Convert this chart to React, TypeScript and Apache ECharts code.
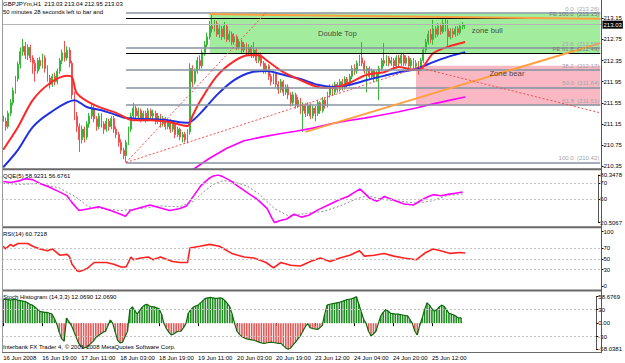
import React, { useEffect, useRef } from 'react';
import * as echarts from 'echarts';

// ---------- texts ----------
const titleLine1 = 'GBPJPYm,H1  213.03 213.04 212.95 213.03';
const titleLine2 = '50 minutes 28 seconds left to bar and';
const qqeTitle = 'QQE(5) 58.9231 56.6761';
const rsiTitle = 'RSI(14) 60.7218';
const histTitle = 'Stoch Histogram (14,3,3) 12.0690 12.0690';
const footerText = 'Interbank FX Trader 4, \u00a9 2001-2008 MetaQuotes Software Corp.';

// ---------- time axis ----------
const SLOT_COUNT = 244; // bars + empty shift area on the right
const LABEL_STEP = 16;
const timeLabels = [
  '16 Jun 2008', '16 Jun 19:00', '17 Jun 11:00', '18 Jun 03:00', '18 Jun 19:00', '19 Jun 11:00',
  '20 Jun 03:00', '20 Jun 19:00', '23 Jun 12:00', '24 Jun 04:00', '24 Jun 20:00', '25 Jun 12:00',
];

// ---------- price candles [open, close, low, high] ----------
const ohlc: number[][] = [
  [211.30, 211.20, 211.10, 211.38], [211.20, 211.10, 211.02, 211.27], [211.10, 211.35, 211.06, 211.40], [211.35, 211.55, 211.30, 211.62],
  [211.55, 211.78, 211.50, 211.84], [211.78, 212.00, 211.72, 212.06], [212.00, 212.28, 211.95, 212.33], [212.28, 212.52, 212.20, 212.60],
  [212.52, 212.62, 212.44, 212.76], [212.62, 212.45, 212.38, 212.70], [212.45, 212.60, 212.36, 212.66], [212.60, 212.40, 212.32, 212.65],
  [212.40, 212.30, 212.10, 212.45], [212.30, 212.15, 211.95, 212.36], [212.15, 212.35, 212.10, 212.40], [212.35, 212.25, 212.18, 212.42],
  [212.25, 212.40, 212.20, 212.48], [212.40, 212.20, 212.12, 212.45], [212.20, 212.02, 211.95, 212.26], [212.02, 211.90, 211.82, 212.08],
  [211.90, 212.05, 211.85, 212.10], [212.05, 211.95, 211.88, 212.12], [211.95, 212.15, 211.90, 212.20], [212.15, 212.35, 212.10, 212.40],
  [212.35, 212.50, 212.28, 212.56], [212.50, 212.40, 212.33, 212.72], [212.40, 212.55, 212.35, 212.62], [212.55, 212.30, 212.22, 212.60],
  [212.30, 211.70, 211.62, 212.35], [211.70, 211.30, 211.22, 211.76], [211.30, 211.10, 211.00, 211.38], [211.10, 210.85, 210.62, 211.16],
  [210.85, 211.05, 210.78, 211.12], [211.05, 210.90, 210.80, 211.10], [210.90, 211.15, 210.85, 211.20], [211.15, 211.30, 211.08, 211.36],
  [211.30, 211.45, 211.24, 211.55], [211.45, 211.25, 211.18, 211.50], [211.25, 211.10, 211.02, 211.30], [211.10, 211.30, 211.05, 211.36],
  [211.30, 211.15, 211.08, 211.35], [211.15, 211.05, 210.96, 211.20], [211.05, 211.20, 211.00, 211.26], [211.20, 211.10, 211.02, 211.25],
  [211.10, 211.25, 211.05, 211.30], [211.25, 211.05, 210.98, 211.30], [211.05, 210.95, 210.88, 211.10], [210.95, 210.80, 210.72, 211.00],
  [210.80, 210.65, 210.58, 210.86], [210.65, 210.55, 210.48, 210.70], [210.55, 210.80, 210.42, 210.85], [210.80, 211.05, 210.75, 211.10],
  [211.05, 211.30, 211.00, 211.36], [211.30, 211.45, 211.25, 211.55], [211.45, 211.30, 211.22, 211.50], [211.30, 211.40, 211.25, 211.46],
  [211.40, 211.25, 211.18, 211.44], [211.25, 211.35, 211.20, 211.40], [211.35, 211.25, 211.18, 211.40], [211.25, 211.40, 211.20, 211.45],
  [211.40, 211.30, 211.22, 211.44], [211.30, 211.35, 211.24, 211.42], [211.35, 211.20, 211.14, 211.40], [211.20, 211.30, 211.15, 211.36],
  [211.30, 211.15, 211.08, 211.34], [211.15, 211.25, 211.10, 211.30], [211.25, 211.10, 211.04, 211.28], [211.10, 211.20, 211.05, 211.25],
  [211.20, 211.05, 210.98, 211.24], [211.05, 211.15, 211.00, 211.20], [211.15, 210.95, 210.88, 211.18], [210.95, 211.05, 210.90, 211.10],
  [211.05, 210.90, 210.84, 211.08], [210.90, 210.95, 210.80, 211.00], [210.95, 210.85, 210.80, 211.00], [210.85, 211.00, 210.78, 211.05],
  [211.00, 212.20, 210.95, 212.30], [212.20, 211.95, 211.85, 212.26], [211.95, 212.15, 211.90, 212.20], [212.15, 212.35, 212.10, 212.42],
  [212.35, 212.25, 212.18, 212.45], [212.25, 212.50, 212.20, 212.56], [212.50, 212.65, 212.44, 212.72], [212.65, 212.80, 212.60, 212.88],
  [212.80, 213.00, 212.75, 213.10], [213.00, 212.95, 212.88, 213.22], [212.95, 213.05, 212.90, 213.12], [213.05, 212.85, 212.80, 213.10],
  [212.85, 212.95, 212.78, 213.02], [212.95, 212.80, 212.74, 213.00], [212.80, 213.00, 212.75, 213.08], [213.00, 212.75, 212.70, 213.04],
  [212.75, 212.85, 212.70, 212.92], [212.85, 212.70, 212.64, 212.90], [212.70, 212.80, 212.65, 212.87], [212.80, 212.60, 212.55, 212.84],
  [212.60, 212.70, 212.56, 212.76], [212.70, 212.55, 212.48, 212.74], [212.55, 212.65, 212.50, 212.70], [212.65, 212.50, 212.45, 212.68],
  [212.50, 212.60, 212.46, 212.66], [212.60, 212.45, 212.40, 212.64], [212.45, 212.55, 212.40, 212.70], [212.55, 212.35, 212.30, 212.58],
  [212.35, 212.45, 212.30, 212.50], [212.45, 212.30, 212.24, 212.50], [212.30, 212.15, 212.10, 212.34], [212.15, 212.25, 212.10, 212.30],
  [212.25, 212.05, 211.98, 212.28], [212.05, 211.95, 211.88, 212.10], [211.95, 212.10, 211.90, 212.15], [212.10, 211.90, 211.84, 212.14],
  [211.90, 211.80, 211.72, 211.96], [211.80, 211.95, 211.74, 212.00], [211.95, 211.75, 211.68, 211.98], [211.75, 211.85, 211.70, 211.90],
  [211.85, 211.70, 211.62, 211.90], [211.70, 211.55, 211.48, 211.75], [211.55, 211.70, 211.50, 211.76], [211.70, 211.50, 211.44, 211.74],
  [211.50, 211.60, 211.45, 211.66], [211.60, 211.40, 211.34, 211.64], [211.40, 211.50, 211.00, 211.56], [211.50, 211.35, 211.28, 211.54],
  [211.35, 211.50, 211.30, 211.56], [211.50, 211.30, 211.24, 211.54], [211.30, 211.45, 211.25, 211.50], [211.45, 211.35, 211.20, 211.50],
  [211.35, 211.55, 211.30, 211.60], [211.55, 211.40, 211.34, 211.58], [211.40, 211.60, 211.36, 211.66], [211.60, 211.50, 211.44, 211.65],
  [211.50, 211.70, 211.46, 211.76], [211.70, 211.85, 211.65, 211.90], [211.85, 211.75, 211.68, 211.90], [211.75, 211.90, 211.70, 211.95],
  [211.90, 211.80, 211.74, 211.94], [211.80, 211.95, 211.76, 212.00], [211.95, 211.85, 211.78, 212.00], [211.85, 212.00, 211.80, 212.05],
  [212.00, 211.90, 211.84, 212.04], [211.90, 212.05, 211.86, 212.10], [212.05, 212.20, 212.00, 212.26], [212.20, 212.15, 212.08, 212.28],
  [212.15, 212.30, 212.10, 212.35], [212.30, 212.40, 212.25, 212.46], [212.40, 212.30, 212.24, 212.70], [212.30, 212.15, 212.10, 212.35],
  [212.15, 212.20, 211.75, 212.25], [212.20, 212.05, 212.00, 212.24], [212.05, 212.15, 212.00, 212.20], [212.15, 212.00, 211.94, 212.18],
  [212.00, 212.10, 211.95, 212.15], [212.10, 212.20, 211.60, 212.25], [212.20, 212.35, 212.15, 212.40], [212.35, 212.30, 212.24, 212.68],
  [212.30, 212.40, 212.25, 212.45], [212.40, 212.30, 212.24, 212.44], [212.30, 212.35, 212.25, 212.42], [212.35, 212.25, 212.18, 212.40],
  [212.25, 212.40, 212.20, 212.45], [212.40, 212.30, 212.24, 212.46], [212.30, 212.45, 212.25, 212.50], [212.45, 212.30, 212.25, 212.48],
  [212.30, 212.40, 212.25, 212.45], [212.40, 212.25, 212.20, 212.44], [212.25, 212.35, 212.20, 212.40], [212.35, 212.25, 212.18, 212.40],
  [212.25, 212.30, 212.20, 212.36], [212.30, 212.20, 212.08, 212.34], [212.20, 212.35, 212.15, 212.40], [212.35, 212.55, 212.30, 212.60],
  [212.55, 212.70, 212.50, 212.76], [212.70, 212.85, 212.65, 212.92], [212.85, 212.75, 212.68, 212.95], [212.75, 212.95, 212.65, 213.12],
  [212.95, 212.85, 212.78, 213.00], [212.85, 213.00, 212.80, 213.06], [213.00, 212.90, 212.84, 213.05], [212.90, 213.05, 212.86, 213.13],
  [213.05, 212.95, 212.90, 213.16], [212.95, 212.80, 212.60, 213.12], [212.80, 212.90, 212.75, 212.96], [212.90, 212.85, 212.78, 212.96],
  [212.85, 212.95, 212.80, 213.00], [212.95, 212.88, 212.82, 213.00], [212.88, 213.00, 212.84, 213.05], [213.00, 213.03, 212.94, 213.08],
  [213.03, 213.03, 212.95, 213.04],
];

// ---------- moving averages [bar, price] ----------
const maFast: number[][] = [
  [0, 210.66], [6, 211.09], [12, 211.60], [19, 211.92], [26, 212.06], [28, 212.04], [30, 211.73], [37, 211.51], [46, 211.36],
  [53, 211.22], [60, 211.22], [67, 211.19], [75, 211.11], [77, 211.30], [80, 211.57], [87, 212.06], [94, 212.34], [100, 212.45],
  [104, 212.45], [107, 212.36], [114, 212.13], [121, 211.98], [128, 211.85], [134, 211.83], [141, 211.93], [148, 212.08],
  [155, 212.13], [161, 212.23], [165, 212.19], [169, 212.17], [175, 212.49], [181, 212.61], [188, 212.70],
];
const maSlow: number[][] = [
  [0, 210.33], [6, 210.66], [12, 211.09], [19, 211.36], [29, 211.60], [34, 211.47], [40, 211.41], [46, 211.32], [50, 211.26],
  [60, 211.24], [67, 211.22], [75, 211.17], [80, 211.34], [87, 211.70], [94, 211.98], [101, 212.13], [107, 212.15], [114, 212.08],
  [121, 212.00], [128, 211.89], [134, 211.85], [141, 211.89], [148, 211.98], [155, 212.06], [161, 212.13], [168, 212.19],
  [175, 212.32], [181, 212.42], [188, 212.51],
];
const maLong: number[][] = [
  [72, 210.13], [78, 210.31], [84, 210.50], [91, 210.69], [98, 210.83], [105, 210.90], [112, 210.96], [119, 211.01], [126, 211.07],
  [133, 211.15], [140, 211.21], [147, 211.26], [154, 211.32], [161, 211.38], [168, 211.45], [175, 211.53], [182, 211.60], [188, 211.66],
];

// ---------- indicators ----------
const qqeFast: number[][] = [
  [0, 72.1], [3, 71.0], [7, 73.3], [9, 75.6], [12, 74.5], [15, 69.8], [19, 65.1], [23, 59.2], [26, 54.5], [28, 46.3], [31, 35.8],
  [35, 38.1], [39, 40.4], [44, 35.8], [48, 31.1], [50, 28.7], [52, 35.8], [56, 39.3], [60, 42.8], [64, 39.3], [68, 35.8], [72, 38.1],
  [75, 41.6], [78, 54.5], [81, 67.4], [84, 75.6], [86, 79.2], [88, 80.35], [90, 78.0], [93, 73.3], [96, 66.3], [100, 58.0],
  [104, 49.8], [108, 38.1], [110, 26.0], [111, 20.51], [113, 23.0], [116, 25.2], [119, 31.1], [122, 27.5], [125, 29.9], [129, 36.9],
  [133, 42.8], [137, 48.7], [141, 53.4], [144, 59.2], [146, 62.7], [148, 56.9], [150, 51.0], [153, 47.5], [156, 53.4], [158, 51.0],
  [161, 47.5], [164, 44.0], [168, 42.8], [171, 48.7], [174, 53.4], [176, 55.7], [179, 54.4], [182, 56.0], [185, 57.5], [188, 58.92],
];
const qqeSlow: number[][] = [
  [0, 69.8], [7, 68.6], [15, 69.8], [23, 63.9], [30, 52.2], [35, 40.4], [41, 38.1], [48, 35.8], [56, 38.1], [64, 41.6], [72, 40.4],
  [78, 47.5], [82, 59.2], [86, 68.6], [90, 73.3], [94, 72.1], [100, 66.3], [105, 55.7], [111, 38.1], [117, 28.7], [124, 32.2],
  [131, 34.6], [138, 41.6], [144, 49.8], [149, 54.5], [155, 49.8], [162, 47.5], [169, 45.1], [175, 47.5], [182, 55.0], [188, 56.68],
];
const rsi: number[][] = [
  [0, 73.3], [1, 68.3], [3, 76.7], [4, 73.3], [6, 78.3], [10, 78.3], [12, 73.3], [15, 68.3], [18, 65.0], [20, 68.3], [23, 56.7],
  [26, 58.3], [27, 53.3], [28, 40.0], [30, 28.3], [31, 26.7], [34, 31.7], [37, 43.3], [39, 43.3], [42, 43.3], [45, 40.0], [48, 35.0],
  [50, 35.0], [52, 53.3], [53, 48.3], [56, 51.7], [59, 53.3], [61, 48.3], [64, 53.3], [67, 48.3], [69, 45.0], [72, 43.3], [75, 43.3],
  [76, 70.0], [80, 73.3], [84, 76.7], [88, 73.3], [93, 60.0], [98, 53.3], [102, 51.7], [107, 43.3], [110, 33.3], [113, 43.3],
  [117, 38.3], [121, 36.7], [125, 45.0], [129, 51.7], [133, 45.0], [137, 51.7], [141, 56.7], [145, 65.0], [147, 55.0], [151, 56.7],
  [155, 60.0], [159, 55.0], [163, 51.7], [168, 48.3], [172, 61.7], [175, 68.3], [178, 65.0], [182, 60.0], [186, 61.7], [188, 60.72],
];
const stochHist: number[] = [
  52, 53, 52, 51, 52, 53, 51, 50, 49, 48,
  45, 42, 40, 36, 31, 26, 25, 24, 24, 22,
  20, 10, -2, -20, -35, -40, 11, 3, -5, -18,
  -32, -45, -52, -55, -54, -50, -45, -40, -32, -28,
  -24, -20, -18, -5, 7, -1, -20, -38, -44, -42,
  -30, -18, 30, 36, 28, 20, 28, 35, 40, 42,
  38, 37, 36, 34, 32, 20, -1, -12, -20, -26,
  -24, -20, -18, -18, -10, -1, 22, 30, 35, 38,
  40, 45, 50, 55, 56, 57, 56, 55, 55, 56,
  55, 50, 44, 36, 20, -1, -18, -25, -30, -33,
  -35, -36, -37, -38, -40, -42, -44, -45, -44, -43,
  -42, -43, -44, -45, -45, -50, -55, -58.0381, -55, -48,
  -42, -35, -28, -18, -8, -1, -10, -12, -13, -14,
  -10, -5, 20, 40, 42, 43, 44, 45, 46, 48,
  50, 52, 53, 54, 56, 58.6769, 42, 25, 8, -1,
  -18, -28, -24, -18, -1, 16, 24, 30, 27, 22,
  21, 20, 20, 19, 18, 17, 16, 8, -1, -18,
  -26, -5, 11, 30, 45, 40, 32, 26, 30, 36,
  40, 37, 30, 22, 20, 18, 15, 11, 12.069,
];

// ---------- axis ticks ----------
const priceTicks = [210.35, 210.75, 211.15, 211.55, 211.95, 212.35, 212.75, 213.15];
const qqeTicks = [20.5067, 50, 70, 80.3478];
const rsiTicks = [0, 30, 50, 70, 100];
const histTicks = [-58.0381, -30, 0, 30, 58.6769];
const qqeLevels = [70, 50];
const rsiLevels = [70, 50, 30];
const histLevels = [30, -30];

// ---------- drawings on price chart ----------
const bidPrice = 213.03;
const fibStartBar = 50;
const lastSlot = 243;
const fibLevels = [
  { name: '0.0', price: 213.26 },
  { name: '23.6', price: 212.59 },
  { name: '38.2', price: 212.17 },
  { name: '50.0', price: 211.84 },
  { name: '61.8', price: 211.51 },
  { name: '100.0', price: 210.42 },
];
const feLevels = [
  { name: 'FE 100.0', price: 213.15 },
  { name: 'FE 61.8', price: 212.49 },
];
const zones = [
  { from: [84, 213.24], to: [243, 212.49], color: '#a2ec9e' },
  { from: [168, 212.25], to: [243, 211.5], color: '#f8b8c4' },
];
const orangeLines = [
  [[84, 213.23], [243, 213.14]],
  [[123, 211.0], [243, 212.68]],
];
const redDotLines = [
  [[50, 210.42], [107, 213.26]],
  [[50, 210.42], [169, 212.22]],
  [[169, 212.22], [243, 211.36]],
];
const notes = [
  { text: 'Double Top', bar: 136, price: 212.86 },
  { text: 'zone bull', bar: 197, price: 212.92 },
  { text: 'Zone bear', bar: 205, price: 212.1 },
];

const FONT = '"Liberation Sans", Arial, sans-serif';
const SMALL = 6;

function buildOption() {
  const categories = Array.from({ length: SLOT_COUNT }, (_, i) => String(i));
  const gridBoxes = [
    { top: 1, height: 167 },
    { top: 175, height: 47.7 },
    { top: 231.7, height: 54.3 },
    { top: 296.7, height: 52.6 },
  ];
  const grid = gridBoxes.map((g) => ({ left: 2, width: 599.5, top: g.top, height: g.height, containLabel: false }));

  const xAxis = gridBoxes.map((_, i) => ({
    type: 'category',
    gridIndex: i,
    data: categories,
    boundaryGap: true,
    axisLine: { show: false },
    axisTick: {
      show: false, interval: LABEL_STEP - 1, alignWithLabel: true, length: 3,
      lineStyle: { color: '#000', width: 1 },
    },
    axisLabel: {
      show: i === 3, interval: LABEL_STEP - 1, fontSize: SMALL, fontFamily: FONT, color: '#000',
      align: 'left', margin: 5.5,
      formatter: (v: string) => {
        const k = Number(v);
        return k % LABEL_STEP === 0 ? (timeLabels[k / LABEL_STEP] ?? '') : '';
      },
    },
    splitLine: { show: false },
  }));

  const yAx = (gridIndex: number, min: number, max: number, ticks: number[], fmt: (v: number) => string) => ({
    type: 'value', gridIndex, position: 'right', min, max,
    axisLine: { show: true, lineStyle: { color: '#555', width: 1 } },
    axisTick: { show: true, customValues: ticks, length: 2, lineStyle: { color: '#000' } },
    axisLabel: { customValues: ticks, fontSize: SMALL, fontFamily: FONT, color: '#000', margin: 2, formatter: fmt },
    splitLine: { show: false },
  });
  const yAxis = [
    yAx(0, 210.315, 213.478, priceTicks, (v) => v.toFixed(2)),
    yAx(1, 20.5067, 80.3478, qqeTicks, (v) => String(v)),
    yAx(2, 0, 100, rsiTicks, (v) => String(v)),
    yAx(3, -58.0381, 58.6769, histTicks, (v) => (v === 0 ? '0.00' : String(v))),
  ];

  const levelLine = (values: number[]) => ({
    silent: true, symbol: ['none', 'none'],
    label: { show: false },
    lineStyle: { color: '#c4c4c4', type: [2, 2], width: 1 },
    data: values.map((v) => ({ yAxis: v })),
  });

  const fibMarks: any[] = fibLevels.map((f) => [
    {
      coord: [fibStartBar, f.price],
      lineStyle: { color: '#8693a0', width: 1.5, type: 'solid' },
      label: {
        show: true, position: 'insideEndTop', distance: 1, formatter: `${f.name}  (${f.price.toFixed(2)})`,
        fontSize: SMALL, fontFamily: FONT, color: '#a6a6a6',
      },
    },
    { coord: [lastSlot, f.price] },
  ]);
  const feMarks: any[] = feLevels.map((f) => [
    {
      coord: [fibStartBar, f.price],
      lineStyle: { color: '#000', width: 1, type: 'solid' },
      label: {
        show: true, position: 'insideEndTop', distance: 1, formatter: `${f.name}  (${f.price.toFixed(2)})`,
        fontSize: SMALL, fontFamily: FONT, color: '#7a7a7a',
      },
    },
    { coord: [lastSlot, f.price] },
  ]);
  const bidMark = {
    yAxis: bidPrice,
    lineStyle: { color: '#b4b4b4', width: 1, type: 'solid' },
    label: {
      show: true, position: 'end', distance: 1, formatter: bidPrice.toFixed(2),
      fontSize: SMALL, fontFamily: FONT, color: '#fff', backgroundColor: '#000', padding: [1, 1],
    },
  };

  const drawMarks: any[] = [
    ...orangeLines.map((l) => [
      { coord: l[0], lineStyle: { color: '#ffa040', width: 2, type: 'solid' } },
      { coord: l[1] },
    ]),
    ...redDotLines.map((l) => [
      { coord: l[0], lineStyle: { color: '#ff4a4a', width: 1, type: [2, 2] } },
      { coord: l[1] },
    ]),
  ];

  const series: any[] = [
    {
      name: 'zones', type: 'line', xAxisIndex: 0, yAxisIndex: 0, data: [], z: 1, silent: true,
      markArea: {
        silent: true,
        data: zones.map((zn) => [{ coord: zn.from, itemStyle: { color: zn.color, opacity: 1 } }, { coord: zn.to }]),
      },
    },
    {
      name: 'levels', type: 'line', xAxisIndex: 0, yAxisIndex: 0, data: [], z: 2, silent: true,
      markLine: { silent: true, symbol: ['none', 'none'], data: [bidMark, ...fibMarks, ...feMarks] },
    },
    {
      name: 'GBPJPY', type: 'candlestick', xAxisIndex: 0, yAxisIndex: 0, data: ohlc, z: 3, barWidth: 1.4,
      itemStyle: { color: '#1fae1f', color0: '#ee2c2c', borderColor: '#35b835', borderColor0: '#f05050', borderWidth: 1 },
    },
    {
      name: 'MA long', type: 'line', xAxisIndex: 0, yAxisIndex: 0, data: maLong, symbol: 'none', z: 4,
      lineStyle: { color: '#ff00ff', width: 1.6 },
    },
    {
      name: 'MA slow', type: 'line', xAxisIndex: 0, yAxisIndex: 0, data: maSlow, symbol: 'none', z: 4, smooth: 0.3,
      lineStyle: { color: '#1f30e0', width: 2 },
    },
    {
      name: 'MA fast', type: 'line', xAxisIndex: 0, yAxisIndex: 0, data: maFast, symbol: 'none', z: 4, smooth: 0.3,
      lineStyle: { color: '#ff2828', width: 2 },
    },
    {
      name: 'drawings', type: 'line', xAxisIndex: 0, yAxisIndex: 0, data: [], z: 5, silent: true,
      markLine: { silent: true, symbol: ['none', 'none'], label: { show: false }, data: drawMarks },
    },
    {
      name: 'notes', type: 'scatter', xAxisIndex: 0, yAxisIndex: 0, z: 6, silent: true,
      symbolSize: 1, itemStyle: { color: 'rgba(0,0,0,0)' },
      data: notes.map((n) => ({
        value: [n.bar, n.price],
        label: {
          show: true, position: 'inside', formatter: n.text, fontSize: 7.7, fontFamily: FONT, color: '#222',
        },
      })),
    },
    {
      name: 'QQE slow', type: 'line', xAxisIndex: 1, yAxisIndex: 1, data: qqeSlow, symbol: 'none', z: 3,
      lineStyle: { color: '#8e8e8e', width: 1, type: [2, 2] },
      markLine: levelLine(qqeLevels),
    },
    {
      name: 'QQE fast', type: 'line', xAxisIndex: 1, yAxisIndex: 1, data: qqeFast, symbol: 'none', z: 4,
      lineStyle: { color: '#ff00ff', width: 1.6 },
    },
    {
      name: 'RSI', type: 'line', xAxisIndex: 2, yAxisIndex: 2, data: rsi, symbol: 'none', z: 4,
      lineStyle: { color: '#ff2020', width: 1.6 },
      markLine: levelLine(rsiLevels),
    },
    {
      name: 'Stoch hist', type: 'bar', xAxisIndex: 3, yAxisIndex: 3, data: stochHist, barWidth: 1.6, z: 2,
      itemStyle: { color: (p: any) => (p.value >= 0 ? '#1f8c1f' : '#e25a5a') },
      markLine: levelLine(histLevels),
    },
    {
      name: 'Stoch edge', type: 'line', xAxisIndex: 3, yAxisIndex: 3, data: stochHist, symbol: 'none', z: 3,
      lineStyle: { color: '#0b6a0b', width: 1.2 },
    },
  ];

  const txt = (text: string, x: number, y: number) => ({
    type: 'text', x, y, silent: true, z: 100,
    style: { text, fill: '#000', fontSize: SMALL, fontFamily: FONT, verticalAlign: 'top', align: 'left' },
  });
  const hline = (y: number, w: number, color: string) => ({
    type: 'rect', silent: true, z: 90, shape: { x: 2, y, width: 600, height: w }, style: { fill: color },
  });
  const timeTicks = timeLabels.map((_, k) => k * LABEL_STEP);

  const graphic = [
    hline(168.3, 2, '#6a6a6a'),
    hline(226.3, 2, '#6a6a6a'),
    hline(289.6, 2, '#6a6a6a'),
    hline(352, 1, '#6a6a6a'),
    { type: 'line', silent: true, z: 90, shape: { x1: 2.5, y1: 0, x2: 2.5, y2: 352 }, style: { stroke: '#9a9a9a', lineWidth: 1 } },
    { type: 'line', silent: true, z: 90, shape: { x1: 601.5, y1: 0, x2: 601.5, y2: 352.5 }, style: { stroke: '#555', lineWidth: 1 } },
    txt(titleLine1, 3, 1),
    txt(titleLine2, 3, 9),
    txt(qqeTitle, 3, 173),
    txt(rsiTitle, 3, 231),
    txt(histTitle, 3, 294),
    txt(footerText, 3, 344),
  ];

  return {
    animation: false,
    backgroundColor: '#ffffff',
    textStyle: { fontFamily: FONT },
    grid,
    xAxis: xAxis.map((ax, i) => (i === 3 ? { ...ax, axisTick: { ...ax.axisTick, show: true, customValues: timeTicks, length: 3 } } : ax)),
    yAxis,
    series,
    graphic,
  };
}

export default function App() {
  const ref = useRef<HTMLDivElement>(null);
  useEffect(() => {
    const el = ref.current;
    if (!el) return;
    const chart = echarts.init(el, undefined, { renderer: 'svg' });
    chart.setOption(buildOption() as any);
    return () => chart.dispose();
  }, []);
  return (
    <div
      ref={ref}
      style={{ position: 'fixed', left: 0, top: 0, width: 625, height: 363, background: '#fff' }}
    />
  );
}
